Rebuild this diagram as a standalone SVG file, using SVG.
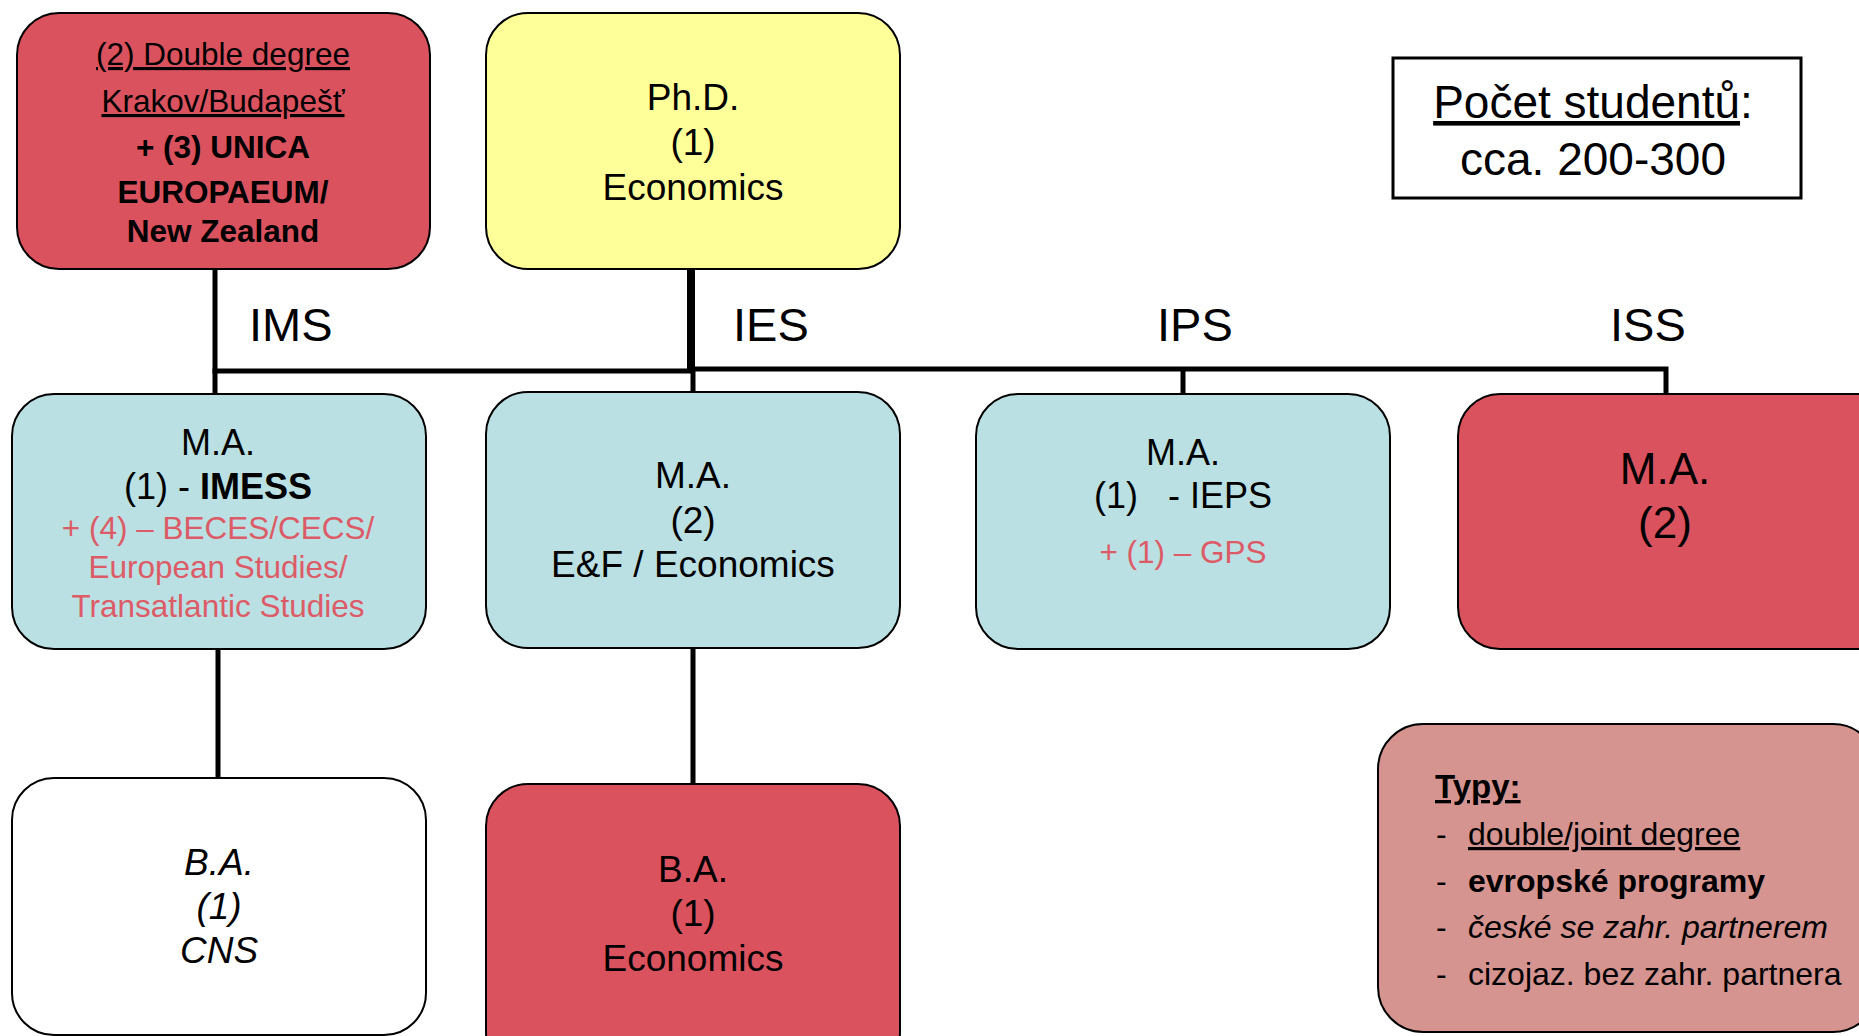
<svg xmlns="http://www.w3.org/2000/svg" width="1859" height="1036" viewBox="0 0 1859 1036">
<style>
  text { font-family: "Liberation Sans", Arial, sans-serif; fill: #000; }
  .box { stroke: #000; stroke-width: 2; }
  .red { fill: #DA525E; }
  .cyan { fill: #BAE0E3; }
  .yellow { fill: #FFFF99; }
  .white { fill: #FFFFFF; }
  .legend { fill: #D59490; }
  .c { text-anchor: middle; }
  .t37 { font-size: 37px; }
  .t36 { font-size: 36px; }
  .t31 { font-size: 31.5px; }
  .rt { fill: #DD5B66; }
  .b { font-weight: bold; }
  .lbl { font-size: 47px; }
  .conn { stroke: #000; stroke-width: 5; fill: none; }
</style>

<g id="connectors">
  <line class="conn" x1="215" y1="269" x2="215" y2="394"/>
  <line class="conn" x1="212.5" y1="371" x2="693" y2="371"/>
  <polyline class="conn" points="691,369 1666,369 1666,394"/>
  <line class="conn" x1="691" y1="269" x2="691" y2="372" style="stroke-width:8"/>
  <line class="conn" x1="693" y1="370" x2="693" y2="392"/>
  <line class="conn" x1="1183" y1="369" x2="1183" y2="394"/>
  <line class="conn" x1="218" y1="649" x2="218" y2="778"/>
  <line class="conn" x1="693" y1="648" x2="693" y2="784"/>
</g>

<g id="labels">
  <text class="lbl" x="249" y="341">IMS</text>
  <text class="lbl" x="733" y="341">IES</text>
  <text class="lbl" x="1157" y="341">IPS</text>
  <text class="lbl" x="1610" y="341">ISS</text>
</g>

<g id="node-double-degree">
  <rect class="box red" x="17" y="13" width="413" height="256" rx="42"/>
  <text class="c" x="223" y="65" font-size="31.5" text-decoration="underline">(2) Double degree</text>
  <text class="c" x="223" y="112" font-size="31.5" text-decoration="underline">Krakov/Budapešť</text>
  <text class="c b" x="223" y="158" font-size="31.5">+ (3) UNICA</text>
  <text class="c b" x="223" y="203" font-size="31.5">EUROPAEUM/</text>
  <text class="c b" x="223" y="242" font-size="31.5">New Zealand</text>
</g>

<g id="node-phd">
  <rect class="box yellow" x="486" y="13" width="414" height="256" rx="42"/>
  <text class="c t37" x="693" y="110">Ph.D.</text>
  <text class="c t37" x="693" y="155">(1)</text>
  <text class="c t37" x="693" y="200">Economics</text>
</g>

<g id="node-pocet">
  <rect x="1393" y="58" width="408" height="140" fill="#FFFFFF" stroke="#000" stroke-width="3"/>
  <text class="c" x="1593" y="118" font-size="46"><tspan text-decoration="underline">Počet studentů</tspan>:</text>
  <text class="c" x="1593" y="175" font-size="46">cca. 200-300</text>
</g>

<g id="node-ma-ims">
  <rect class="box cyan" x="12" y="394" width="414" height="255" rx="42"/>
  <text class="c t36" x="218" y="455">M.A.</text>
  <text class="c t36" x="218" y="499">(1) - <tspan class="b">IMESS</tspan></text>
  <text class="c t31 rt" x="218" y="539">+ (4) – BECES/CECS/</text>
  <text class="c t31 rt" x="218" y="578">European Studies/</text>
  <text class="c t31 rt" x="218" y="617">Transatlantic Studies</text>
</g>

<g id="node-ma-ies">
  <rect class="box cyan" x="486" y="392" width="414" height="256" rx="42"/>
  <text class="c t37" x="693" y="488">M.A.</text>
  <text class="c t37" x="693" y="533">(2)</text>
  <text class="c t37" x="693" y="577">E&amp;F / Economics</text>
</g>

<g id="node-ma-ips">
  <rect class="box cyan" x="976" y="394" width="414" height="255" rx="42"/>
  <text class="c t36" x="1183" y="465">M.A.</text>
  <text class="c t36" x="1183" y="508" xml:space="preserve">(1)   - IEPS</text>
  <text class="c t31 rt" x="1183" y="563">+ (1) – GPS</text>
</g>

<g id="node-ma-iss">
  <rect class="box red" x="1458" y="394" width="440" height="255" rx="42"/>
  <text class="c" x="1665" y="484" font-size="44">M.A.</text>
  <text class="c" x="1665" y="538" font-size="44">(2)</text>
</g>

<g id="node-ba-cns">
  <rect class="box white" x="12" y="778" width="414" height="257" rx="42"/>
  <text class="c t37" x="219" y="875" font-style="italic">B.A.</text>
  <text class="c t37" x="219" y="919" font-style="italic">(1)</text>
  <text class="c t37" x="219" y="963" font-style="italic">CNS</text>
</g>

<g id="node-ba-economics">
  <rect class="box red" x="486" y="784" width="414" height="290" rx="42"/>
  <text class="c t37" x="693" y="882">B.A.</text>
  <text class="c t37" x="693" y="926">(1)</text>
  <text class="c t37" x="693" y="971">Economics</text>
</g>

<g id="node-legend">
  <rect class="box legend" x="1378" y="724" width="500" height="308" rx="45"/>
  <text class="b" x="1435" y="798" font-size="33" text-decoration="underline">Typy:</text>
  <text x="1436" y="845" font-size="32">-</text>
  <text x="1468" y="845" font-size="32" text-decoration="underline">double/joint degree</text>
  <text x="1436" y="892" font-size="32">-</text>
  <text class="b" x="1468" y="892" font-size="32">evropské programy</text>
  <text x="1436" y="938" font-size="32">-</text>
  <text x="1468" y="938" font-size="32" font-style="italic">české se zahr. partnerem</text>
  <text x="1436" y="985" font-size="32">-</text>
  <text x="1468" y="985" font-size="32">cizojaz. bez zahr. partnera</text>
</g>
</svg>
